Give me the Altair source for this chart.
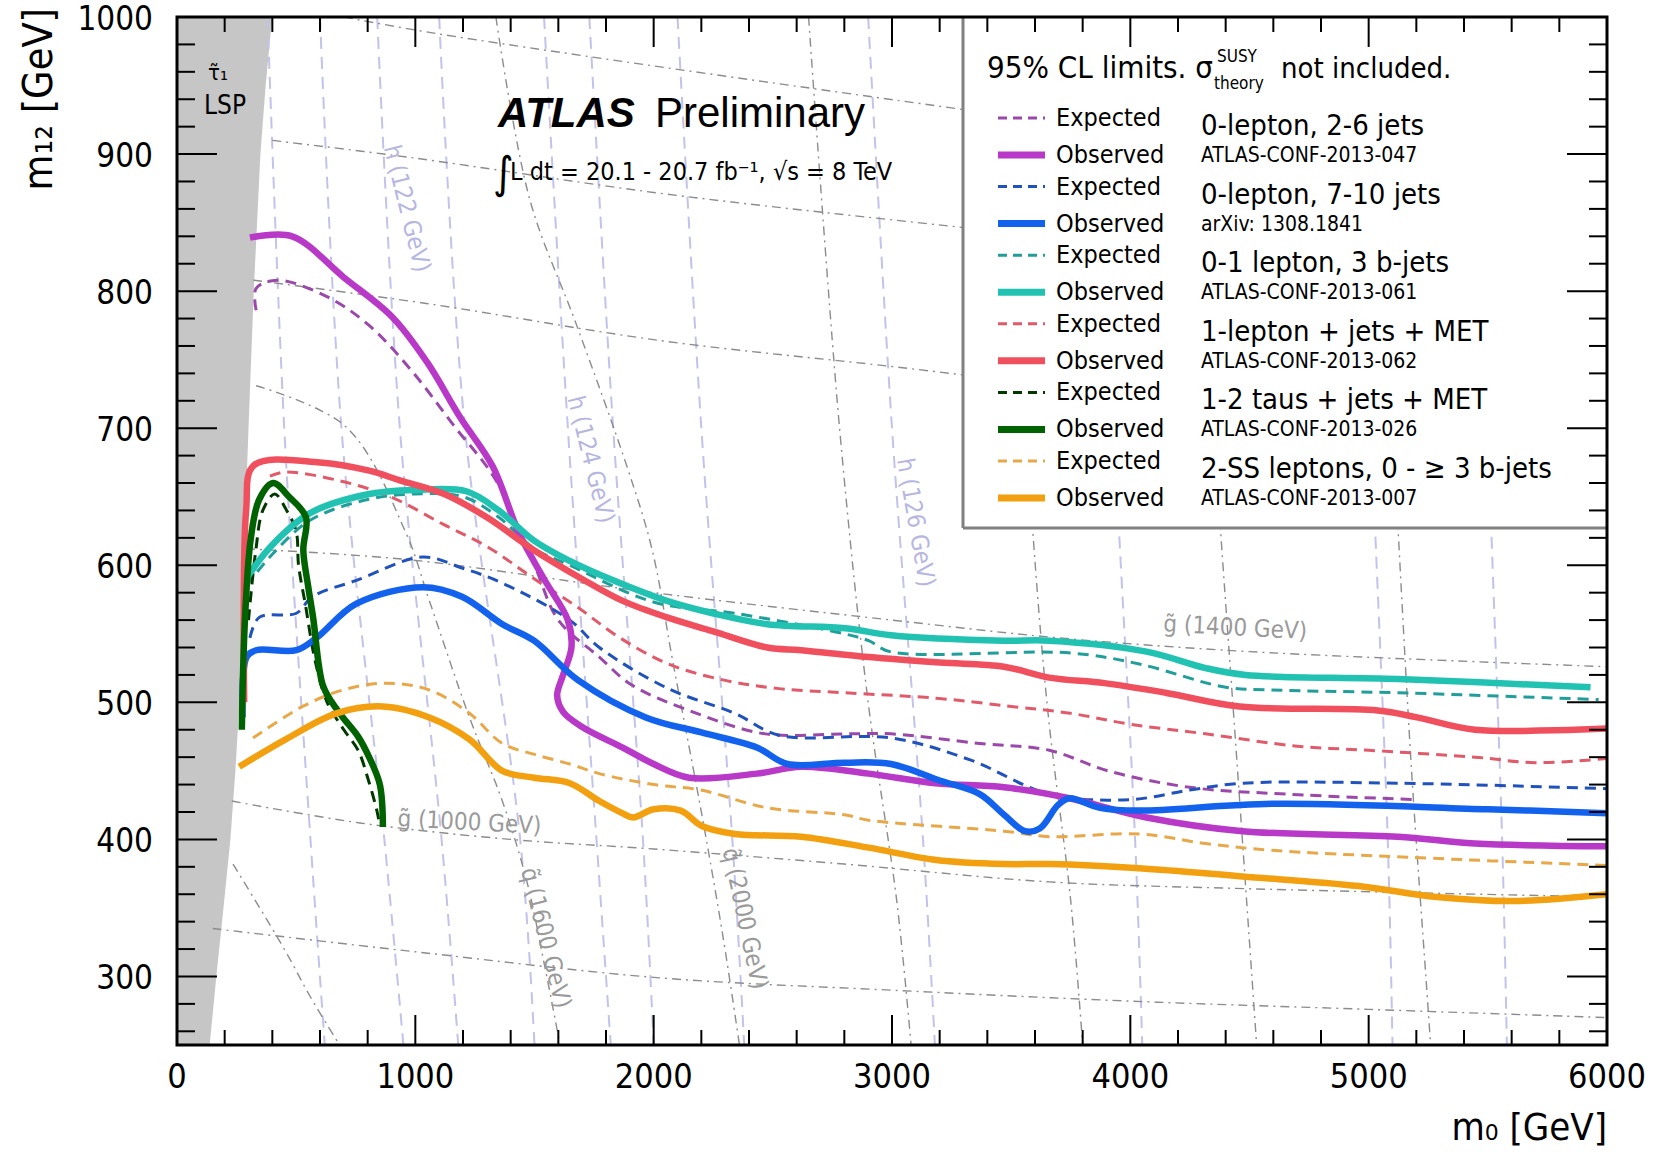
import altair as alt
import pandas as pd

# ---------------- data ----------------
# LSP (stau) excluded region boundary
lsp_m12 = [250, 300, 350, 400, 450, 500, 600, 700, 800, 900, 950, 1000]
lsp_m0 = [137, 165, 195, 224, 245, 262, 280, 300, 322, 350, 372, 399]

# 0-lepton, 2-6 jets
mag_obs_m0 = [306, 483, 700, 904, 1050, 1188, 1325, 1436, 1540, 1640, 1655, 1620, 1595, 1620, 1700, 1870, 2000, 2149, 2433, 2619, 2902, 3182, 3470, 3744, 4068, 4471, 5122, 5446, 6000]
mag_obs_m12 = [839, 840, 810, 781, 748, 708, 672, 623, 590, 560, 540, 520, 505, 493, 482, 467, 455, 445, 448, 453, 448, 441, 438, 430, 416, 406, 402, 397, 395]
mag_exp_m0 = [332, 332, 420, 629, 806, 984, 1161, 1338, 1500, 1600, 1772, 1905, 2149, 2468, 2805, 2996, 3368, 3660, 3906, 4249, 4657, 5203]
mag_exp_m12 = [786, 802, 808, 796, 775, 742, 702, 662, 600, 560, 533, 513, 494, 477, 477, 477, 470, 465, 450, 438, 433, 429]

# 0-lepton, 7-10 jets
blu_obs_m0 = [275, 292, 332, 501, 585, 753, 1032, 1196, 1365, 1498, 1684, 1967, 2200, 2433, 2561, 2800, 2996, 3200, 3368, 3470, 3558, 3620, 3696, 3744, 3873, 4037, 4595, 5500, 6000]
blu_obs_m12 = [489, 533, 538, 538, 547, 572, 584, 577, 557, 545, 516, 489, 478, 467, 455, 456, 455, 443, 433, 418, 406, 408, 425, 430, 423, 421, 426, 422, 419]
blu_exp_m0 = [306, 345, 501, 567, 753, 1032, 1196, 1365, 1648, 1772, 2061, 2340, 2526, 2996, 3328, 3660, 3996, 4249, 4471, 5122, 6000]
blu_exp_m12 = [547, 562, 565, 577, 589, 606, 598, 587, 560, 540, 510, 492, 476, 474, 458, 433, 429, 436, 441, 441, 437]

# 0-1 lepton, 3 b-jets
tea_obs_m0 = [290, 390, 558, 806, 1000, 1214, 1350, 1498, 1650, 1830, 2056, 2247, 2477, 2805, 2996, 3470, 3660, 4068, 4316, 4484, 5122, 5931]
tea_obs_m12 = [590, 613, 638, 652, 655, 654, 640, 618, 603, 589, 574, 565, 557, 554, 549, 545, 545, 537, 525, 520, 517, 511]
tea_exp_m0 = [290, 400, 560, 800, 1000, 1200, 1350, 1500, 1648, 2003, 2340, 2800, 2902, 2991, 3749, 4037, 4400, 4595, 5122, 5965]
tea_exp_m12 = [585, 608, 633, 648, 652, 650, 635, 612, 600, 573, 565, 550, 545, 537, 536, 528, 511, 509, 507, 502]

# 1-lepton + jets + MET
red_obs_m0 = [282, 290, 323, 600, 806, 935, 1121, 1300, 1498, 1700, 1870, 2056, 2247, 2477, 2619, 2902, 3200, 3470, 3660, 3891, 4147, 4458, 5038, 5203, 5446, 6000]
red_obs_m12 = [500, 640, 673, 675, 669, 662, 652, 635, 611, 590, 574, 562, 552, 540, 538, 533, 529, 526, 518, 514, 507, 497, 494, 489, 480, 481]
red_exp_m0 = [390, 452, 674, 895, 1116, 1307, 1500, 1684, 1850, 2061, 2300, 2526, 2800, 3186, 3500, 3749, 4000, 4316, 4700, 5000, 5446, 5700, 6000]
red_exp_m12 = [665, 668, 662, 650, 630, 613, 590, 569, 548, 528, 516, 510, 507, 503, 497, 492, 484, 477, 468, 465, 460, 456, 459]

# 1-2 taus + jets + MET
grn_obs_m0 = [272, 285, 310, 345, 403, 470, 541, 530, 550, 571, 611, 650, 696, 760, 806, 851, 864]
grn_obs_m12 = [480, 560, 620, 648, 660, 650, 635, 611, 585, 562, 513, 500, 489, 475, 460, 440, 409]
grn_exp_m0 = [300, 330, 360, 410, 460, 500, 510, 540, 580, 630, 700, 760, 800, 840, 850]
grn_exp_m12 = [560, 610, 640, 652, 640, 625, 600, 570, 530, 500, 480, 465, 445, 420, 410]

# 2-SS leptons, 0 - >=3 b-jets
org_obs_m0 = [261, 456, 669, 864, 1059, 1227, 1365, 1500, 1648, 1772, 1870, 1914, 2000, 2114, 2200, 2340, 2619, 2902, 3186, 3470, 3660, 4037, 4471, 4958, 5286, 5609, 6000]
org_obs_m12 = [453, 473, 492, 497, 489, 473, 450, 445, 441, 428, 419, 416, 422, 421, 410, 404, 402, 394, 385, 382, 382, 379, 373, 366, 358, 355, 360]
org_exp_m0 = [319, 527, 696, 877, 1059, 1227, 1365, 1500, 1648, 1772, 2000, 2198, 2477, 2800, 2902, 3470, 3660, 4037, 4316, 4595, 5162, 6000]
org_exp_m12 = [474, 497, 509, 514, 509, 492, 470, 462, 455, 448, 440, 436, 423, 418, 414, 406, 402, 404, 397, 392, 387, 381]

# background iso-mass contours
gluino_m0 = [
    [150, 1000, 2025, 3000, 4000, 5000, 6000],
    [230, 767, 1400, 2000, 2800, 3660, 4500, 6000],
    [290, 975, 2000, 3000, 3700, 4500, 6000],
    [320, 1046, 2025, 3000, 4000, 5000, 6000],
    [400, 1000, 2000, 3000, 4500, 6000],
    [700, 1086, 3031, 4500, 6000],
]
gluino_m12 = [
    [335, 318, 299, 290, 282, 276, 270],
    [428, 412, 400, 393, 382, 369, 364, 358],
    [612, 604, 580, 560, 547, 537, 526],
    [808, 791, 764, 745, 725, 712, 700],
    [910, 897, 872, 852, 825, 800],
    [1000, 988, 939, 905, 880],
]
squark_m0 = [
    [235, 450, 560, 682],
    [332, 709, 962, 1059, 1227, 1365, 1467, 1540, 1604],
    [1338, 1480, 1675, 1888, 1994, 2080, 2200, 2290, 2360],
    [2650, 2780, 2900, 3020, 3080],
    [3450, 3560, 3650, 3750, 3800],
    [4250, 4350, 4450, 4510, 4530],
    [5000, 5100, 5180, 5240, 5260],
]
squark_m12 = [
    [382, 320, 285, 250],
    [731, 701, 623, 574, 489, 428, 370, 310, 253],
    [1000, 867, 776, 672, 611, 530, 420, 330, 250],
    [1000, 700, 500, 355, 250],
    [1000, 700, 500, 355, 250],
    [1000, 700, 450, 300, 250],
    [1000, 700, 450, 300, 250],
]
higgs_m12 = [1000, 700, 400, 250]
higgs_m0 = [
    [380, 450, 560, 620],
    [600, 690, 870, 950],
    [840, 935, 1110, 1180],
    [1100, 1208, 1440, 1500],
    [1540, 1640, 1760, 1820],
    [1730, 1830, 1955, 2000],
    [2100, 2200, 2330, 2380],
    [2900, 3000, 3130, 3180],
    [3850, 3930, 4020, 4050],
    [4950, 5010, 5080, 5100],
    [5450, 5500, 5560, 5580],
]

contour_labels = ["g\u0303 (1000 GeV)", "g\u0303 (1400 GeV)", "q\u0303 (1600 GeV)", "q\u0303 (2000 GeV)"]
contour_label_m0 = [1227, 4440, 1545, 2380]
contour_label_m12 = [412, 554, 328, 342]
contour_label_angle = [3, 3, 76, 78]
higgs_labels = ["h (122 GeV)", "h (124 GeV)", "h (126 GeV)"]
higgs_label_m0 = [962, 1733, 3097]
higgs_label_m12 = [860, 677, 631]
higgs_label_angle = [76, 76, 80]

group_names = ["0-lepton, 2-6 jets", "0-lepton, 7-10 jets", "0-1 lepton, 3 b-jets",
               "1-lepton + jets + MET", "1-2 taus + jets + MET", "2-SS leptons, 0 - \u2265 3  b-jets"]
group_refs = ["ATLAS-CONF-2013-047", "arXiv: 1308.1841", "ATLAS-CONF-2013-061",
              "ATLAS-CONF-2013-062", "ATLAS-CONF-2013-026", "ATLAS-CONF-2013-007"]
obs_colors = ["#b838c8", "#1262ee", "#22c2b2", "#f0505e", "#006200", "#f2a010"]
exp_colors = ["#9a48aa", "#2052bc", "#209e9a", "#e05a6a", "#003800", "#e8a848"]

x_major = [0, 1000, 2000, 3000, 4000, 5000, 6000]
y_major = [300, 400, 500, 600, 700, 800, 900, 1000]

# ---------------- layout ----------------
W, H = 1430, 1028
FONT = "DejaVu Sans Condensed, DejaVu Sans, Liberation Sans, sans-serif"
HEL = "Liberation Sans, Arial, sans-serif"
xs = alt.Scale(domain=[0, 6000], nice=False, zero=False)
ys = alt.Scale(domain=[250, 1000], nice=False, zero=False)

layers = []

def xy_df(m0, m12):
    return pd.DataFrame({"m0": m0, "m12": m12, "i": list(range(len(m0)))})

def curve(m0, m12, color, width, dash=None, opacity=1.0):
    kw = dict(color=color, strokeWidth=width, clip=True, opacity=opacity,
              strokeJoin="round", strokeCap="butt", interpolate="catmull-rom")
    if dash:
        kw["strokeDash"] = dash
    return alt.Chart(xy_df(m0, m12)).mark_line(**kw).encode(
        x=alt.X("m0:Q", scale=xs, axis=None),
        y=alt.Y("m12:Q", scale=ys, axis=None),
        order=alt.Order("i:Q"),
    )

# LSP region
lsp = alt.Chart(pd.DataFrame({"m0": lsp_m0, "m12": lsp_m12})).mark_area(
    orient="horizontal", color="#c6c6c6", clip=True
).encode(
    y=alt.Y("m12:Q", scale=ys, axis=None),
    x=alt.X("m0:Q", scale=xs, axis=None),
    x2=alt.value(0),
)
layers.append(lsp)

for m0 in higgs_m0:
    layers.append(curve(m0, higgs_m12, "#c2c2ea", 2, dash=[12, 8]))
for m0, m12 in zip(gluino_m0, gluino_m12):
    layers.append(curve(m0, m12, "#8c8c8c", 1.4, dash=[9, 5, 2, 5]))
for m0, m12 in zip(squark_m0, squark_m12):
    layers.append(curve(m0, m12, "#8c8c8c", 1.4, dash=[9, 5, 2, 5]))

lab_df = pd.DataFrame({"m0": contour_label_m0, "m12": contour_label_m12, "t": contour_labels})
for k in range(len(contour_labels)):
    layers.append(alt.Chart(lab_df.iloc[[k]]).mark_text(
        font=FONT, fontSize=24, color="#9a9a9a", angle=contour_label_angle[k],
        align="center", baseline="middle").encode(
        x=alt.X("m0:Q", scale=xs, axis=None), y=alt.Y("m12:Q", scale=ys, axis=None), text="t:N"))
hl_df = pd.DataFrame({"m0": higgs_label_m0, "m12": higgs_label_m12, "t": higgs_labels})
for k in range(len(higgs_labels)):
    layers.append(alt.Chart(hl_df.iloc[[k]]).mark_text(
        font=FONT, fontSize=24, color="#b6b6e2", angle=higgs_label_angle[k],
        align="center", baseline="middle").encode(
        x=alt.X("m0:Q", scale=xs, axis=None), y=alt.Y("m12:Q", scale=ys, axis=None), text="t:N"))

series = [
    (mag_exp_m0, mag_exp_m12, mag_obs_m0, mag_obs_m12),
    (blu_exp_m0, blu_exp_m12, blu_obs_m0, blu_obs_m12),
    (tea_exp_m0, tea_exp_m12, tea_obs_m0, tea_obs_m12),
    (red_exp_m0, red_exp_m12, red_obs_m0, red_obs_m12),
    (grn_exp_m0, grn_exp_m12, grn_obs_m0, grn_obs_m12),
    (org_exp_m0, org_exp_m12, org_obs_m0, org_obs_m12),
]
for k, (em0, em12, om0, om12) in enumerate(series):
    layers.append(curve(em0, em12, exp_colors[k], 3, dash=[11, 7]))
for k, (em0, em12, om0, om12) in enumerate(series):
    layers.append(curve(om0, om12, obs_colors[k], 6.5))

# legend box
LX0, LY1 = 786, 511
layers.append(alt.Chart(pd.DataFrame({"a": [0]})).mark_rect(fill="white").encode(
    x=alt.value(LX0), x2=alt.value(W), y=alt.value(1), y2=alt.value(LY1)))
layers.append(alt.Chart(pd.DataFrame({"a": [0]})).mark_rule(color="#808080", strokeWidth=3).encode(
    x=alt.value(LX0), y=alt.value(1), y2=alt.value(LY1)))
layers.append(alt.Chart(pd.DataFrame({"a": [0]})).mark_rule(color="#808080", strokeWidth=3).encode(
    x=alt.value(LX0), x2=alt.value(W), y=alt.value(LY1)))

STEP = 68.6
def pix_text(df, size, color="black", align="left", weight="normal", style="normal", font=FONT, angle=0):
    return alt.Chart(df).mark_text(font=font, fontSize=size, color=color, align=align,
                                   baseline="middle", fontWeight=weight, fontStyle=style,
                                   angle=angle).encode(
        x=alt.X("px:Q", scale=None, axis=None), y=alt.Y("py:Q", scale=None, axis=None), text="t:N")

for k in range(6):
    ye = 101 + k * STEP
    yo = 138 + k * STEP
    sym = pd.DataFrame({"px": [821], "px2": [868], "py": [ye]})
    layers.append(alt.Chart(sym).mark_rule(color=exp_colors[k], strokeWidth=3, strokeDash=[9, 6]).encode(
        x=alt.X("px:Q", scale=None, axis=None), x2="px2:Q", y=alt.Y("py:Q", scale=None, axis=None)))
    sym2 = pd.DataFrame({"px": [821], "px2": [868], "py": [yo]})
    layers.append(alt.Chart(sym2).mark_rule(color=obs_colors[k], strokeWidth=7).encode(
        x=alt.X("px:Q", scale=None, axis=None), x2="px2:Q", y=alt.Y("py:Q", scale=None, axis=None)))

leg_words = pd.DataFrame({
    "px": [879] * 12,
    "py": [101 + k * STEP for k in range(6)] + [138 + k * STEP for k in range(6)],
    "t": ["Expected"] * 6 + ["Observed"] * 6,
})
layers.append(pix_text(leg_words, 25))
layers.append(pix_text(pd.DataFrame({"px": [1024] * 6, "py": [109 + k * STEP for k in range(6)],
                                     "t": group_names}), 29))
layers.append(pix_text(pd.DataFrame({"px": [1024] * 6, "py": [139 + k * STEP for k in range(6)],
                                     "t": group_refs}), 21))
layers.append(pix_text(pd.DataFrame({"px": [810], "py": [52], "t": ["95%  CL limits. \u03c3"]}), 31))
layers.append(pix_text(pd.DataFrame({"px": [1040], "py": [40], "t": ["SUSY"]}), 17))
layers.append(pix_text(pd.DataFrame({"px": [1037], "py": [67], "t": ["theory"]}), 17))
layers.append(pix_text(pd.DataFrame({"px": [1104], "py": [52], "t": ["not included."]}), 29))

# ATLAS label and luminosity
layers.append(pix_text(pd.DataFrame({"px": [321], "py": [97], "t": ["ATLAS"]}), 42, weight="bold", style="italic",
                       font=HEL))
layers.append(pix_text(pd.DataFrame({"px": [478], "py": [97], "t": ["Preliminary"]}), 42, font=HEL))
layers.append(pix_text(pd.DataFrame({"px": [316], "py": [158], "t": ["\u222b"]}), 44))
layers.append(pix_text(pd.DataFrame({"px": [333], "py": [155],
                                     "t": ["L dt = 20.1 - 20.7 fb\u207b\u00b9,  \u221as = 8 TeV"]}), 25))
layers.append(pix_text(pd.DataFrame({"px": [31], "py": [56], "t": ["\u03c4\u0303\u2081"]}), 22))
layers.append(pix_text(pd.DataFrame({"px": [27], "py": [89], "t": ["LSP"]}), 26))

# ticks (inside, all four sides)
x_minor = [v for v in range(0, 6001, 200) if v % 1000]
y_minor = [v for v in range(260, 1001, 20) if v % 100]
def xticks(vals, length):
    d = pd.DataFrame({"m0": vals})
    b = alt.Chart(d).mark_rule(color="black", strokeWidth=2).encode(
        x=alt.X("m0:Q", scale=xs, axis=None), y=alt.value(H), y2=alt.value(H - length))
    t = alt.Chart(d).mark_rule(color="black", strokeWidth=2).encode(
        x=alt.X("m0:Q", scale=xs, axis=None), y=alt.value(0), y2=alt.value(length))
    return [b, t]
def yticks(vals, length):
    d = pd.DataFrame({"m12": vals})
    l = alt.Chart(d).mark_rule(color="black", strokeWidth=2).encode(
        y=alt.Y("m12:Q", scale=ys, axis=None), x=alt.value(0), x2=alt.value(length))
    r = alt.Chart(d).mark_rule(color="black", strokeWidth=2).encode(
        y=alt.Y("m12:Q", scale=ys, axis=None), x=alt.value(W), x2=alt.value(W - length))
    return [l, r]
layers += xticks(x_major, 30) + xticks(x_minor, 15) + yticks(y_major, 40) + yticks(y_minor, 18)

# tick labels and axis titles (drawn as text through the data scales)
xl = pd.DataFrame({"m0": x_major, "t": [str(v) for v in x_major]})
layers.append(alt.Chart(xl).mark_text(font=FONT, fontSize=34, align="center", baseline="middle",
                                      color="black").encode(
    x=alt.X("m0:Q", scale=xs, axis=None), y=alt.value(H + 33), text="t:N"))
yl = pd.DataFrame({"m12": y_major, "t": [str(v) for v in y_major]})
layers.append(alt.Chart(yl).mark_text(font=FONT, fontSize=33, align="right", baseline="middle",
                                      color="black", dy=3).encode(
    y=alt.Y("m12:Q", scale=ys, axis=None), x=alt.value(-24), text="t:N"))
layers.append(pix_text(pd.DataFrame({"px": [W], "py": [H + 84], "t": ["m\u2080 [GeV]"]}), 38, align="right"))
layers.append(pix_text(pd.DataFrame({"px": [-137], "py": [-9], "t": ["m\u2081\u2082 [GeV]"]}), 41,
                       align="right", angle=270))

# frame
layers.append(alt.Chart(pd.DataFrame({"a": [0]})).mark_rect(
    fillOpacity=0, stroke="black", strokeWidth=3).encode(
    x=alt.value(0), x2=alt.value(W), y=alt.value(0), y2=alt.value(H)))

chart = alt.layer(*layers).properties(
    width=W, height=H,
    padding={"left": 177, "top": 17, "right": 49, "bottom": 109},
    autosize=alt.AutoSizeParams(type="none"),
).configure_view(stroke=None).configure(background="white")

chart.save("out.html", embed_options={"renderer": "svg", "actions": False})
